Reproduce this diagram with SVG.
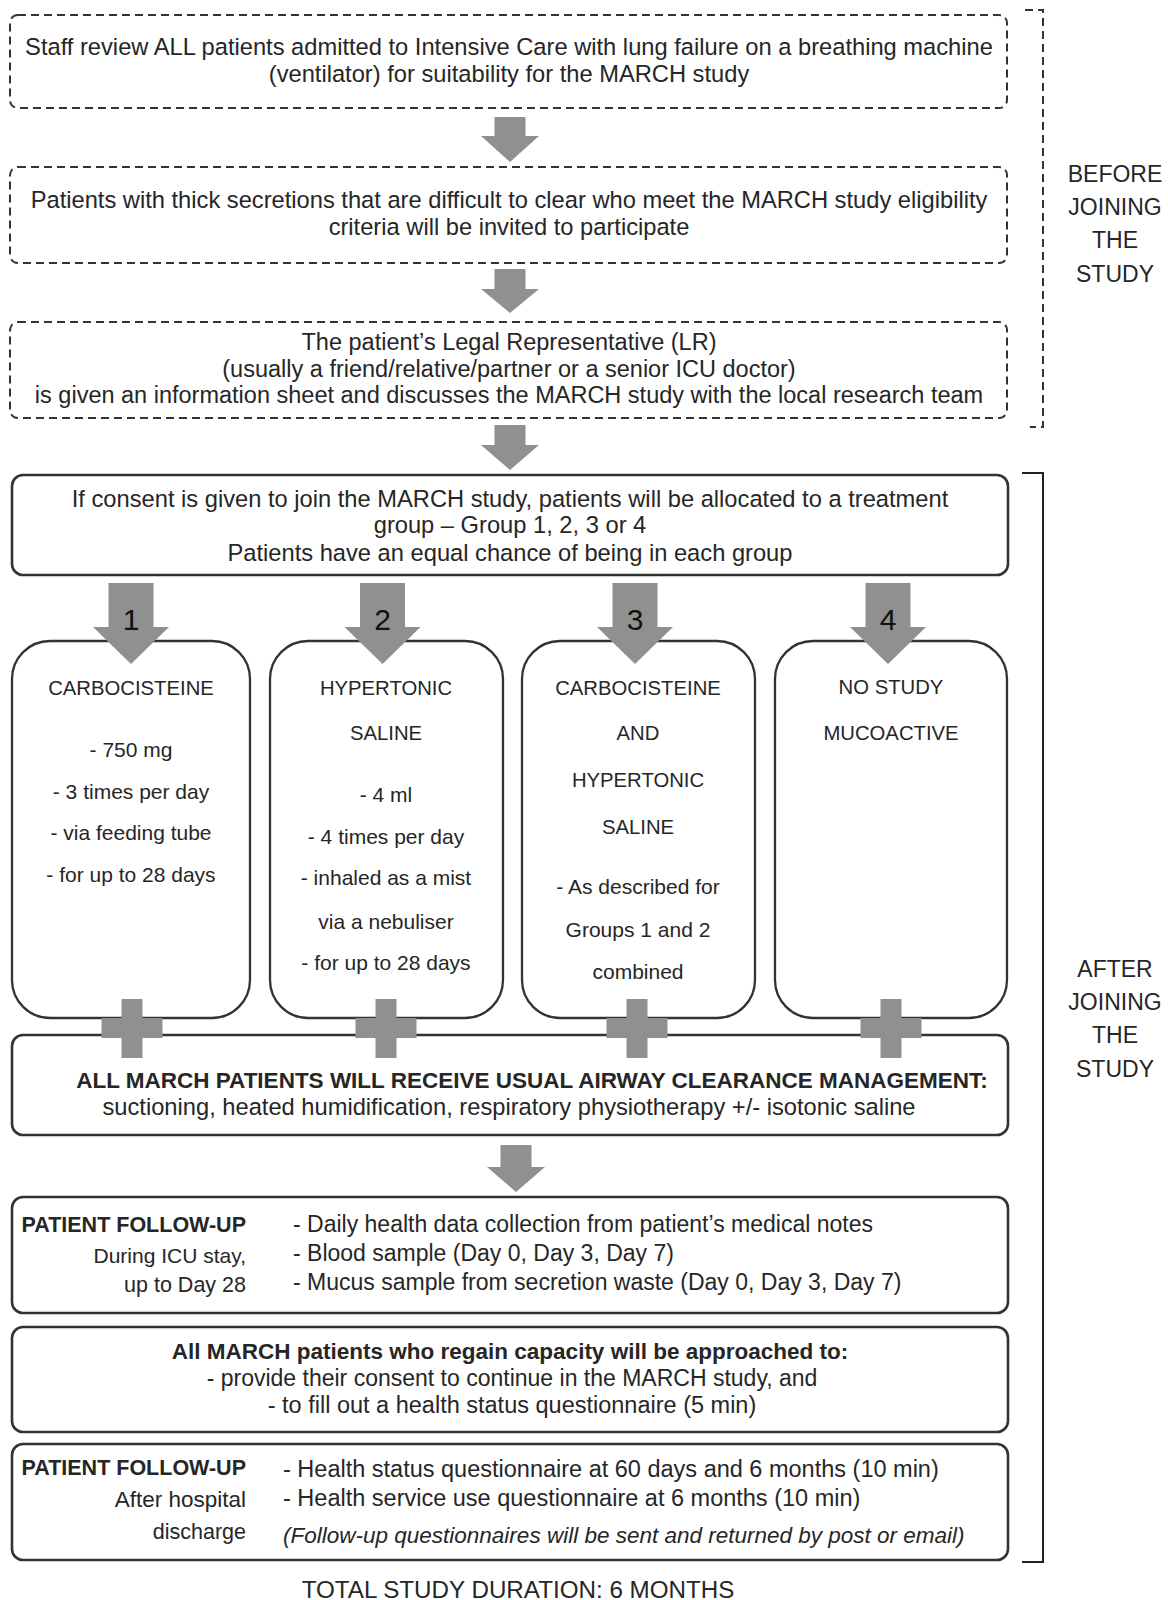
<svg xmlns="http://www.w3.org/2000/svg" width="1168" height="1600" viewBox="0 0 1168 1600">
<style>
text{font-family:"Liberation Sans",Arial,sans-serif;fill:#262626}
.c{text-anchor:middle}
.r{text-anchor:end}
.b{font-weight:bold}
.t24{font-size:23.7px}
.t23{font-size:23px}
.t235{font-size:23.5px}
.t22{font-size:22px}
.t225{font-size:22.5px}
.t21{font-size:21px}
.t215{font-size:21.5px}
.t20{font-size:20.3px}
.num{font-size:30px;fill:#111}
.dash{fill:#fff;stroke:#333;stroke-width:2;stroke-dasharray:8 5}
.box{fill:#fff;stroke:#333;stroke-width:2.6}
.grp{fill:#fff;stroke:#333;stroke-width:2.3}
.arr{fill:#909090}
.brd{fill:none;stroke:#333;stroke-width:2;stroke-dasharray:8 5}
.brs{fill:none;stroke:#222;stroke-width:2}
</style>
<rect width="1168" height="1600" fill="#fff"/>

<g id="bracket-before"><path class="brd" d="M1025,10 H1043 V427 H1030"/></g>
<g id="bracket-after"><path class="brs" d="M1022,473 H1043 V1562 H1022"/></g>
<g id="label-before">
<text class="c t23" x="1115" y="182">BEFORE</text>
<text class="c t23" x="1115" y="215">JOINING</text>
<text class="c t23" x="1115" y="248">THE</text>
<text class="c t23" x="1115" y="282">STUDY</text>
</g>
<g id="label-after">
<text class="c t23" x="1115" y="977">AFTER</text>
<text class="c t23" x="1115" y="1010">JOINING</text>
<text class="c t23" x="1115" y="1043">THE</text>
<text class="c t23" x="1115" y="1077">STUDY</text>
</g>

<g id="review">
<rect class="dash" x="10" y="15" width="997" height="93" rx="8"/>
<text class="c t24" x="509" y="55">Staff review ALL patients admitted to Intensive Care with lung failure on a breathing machine</text>
<text class="c t24" x="509" y="82">(ventilator) for suitability for the MARCH study</text>
</g>
<g id="invite">
<rect class="dash" x="10" y="167" width="997" height="96" rx="8"/>
<text class="c t24" x="509" y="208">Patients with thick secretions that are difficult to clear who meet the MARCH study eligibility</text>
<text class="c t24" x="509" y="235">criteria will be invited to participate</text>
</g>
<g id="lr">
<rect class="dash" x="10" y="322" width="997" height="96" rx="8"/>
<text class="c t235" x="509" y="350">The patient’s Legal Representative (LR)</text>
<text class="c t235" x="509" y="377">(usually a friend/relative/partner or a senior ICU doctor)</text>
<text class="c t235" x="509" y="403">is given an information sheet and discusses the MARCH study with the local research team</text>
</g>
<g id="consent">
<rect class="box" x="12" y="475" width="996" height="100" rx="11"/>
<text class="c t24" x="510" y="507">If consent is given to join the MARCH study, patients will be allocated to a treatment</text>
<text class="c t24" x="510" y="533">group – Group 1, 2, 3 or 4</text>
<text class="c t24" x="510" y="561">Patients have an equal chance of being in each group</text>
</g>

<g id="group1">
<rect class="grp" x="12" y="641" width="238" height="377" rx="38"/>
<text class="c t20" x="131" y="695">CARBOCISTEINE</text>
<text class="c t21" x="131" y="757">- 750 mg</text>
<text class="c t21" x="131" y="799">- 3 times per day</text>
<text class="c t21" x="131" y="840">- via feeding tube</text>
<text class="c t21" x="131" y="882">- for up to 28 days</text>
</g>
<g id="group2">
<rect class="grp" x="270" y="641" width="233" height="377" rx="38"/>
<text class="c t20" x="386" y="695">HYPERTONIC</text>
<text class="c t20" x="386" y="740">SALINE</text>
<text class="c t21" x="386" y="802">- 4 ml</text>
<text class="c t21" x="386" y="844">- 4 times per day</text>
<text class="c t21" x="386" y="885">- inhaled as a mist</text>
<text class="c t21" x="386" y="929">via a nebuliser</text>
<text class="c t21" x="386" y="970">- for up to 28 days</text>
</g>
<g id="group3">
<rect class="grp" x="522" y="641" width="233" height="377" rx="38"/>
<text class="c t20" x="638" y="695">CARBOCISTEINE</text>
<text class="c t20" x="638" y="740">AND</text>
<text class="c t20" x="638" y="787">HYPERTONIC</text>
<text class="c t20" x="638" y="834">SALINE</text>
<text class="c t21" x="638" y="894">- As described for</text>
<text class="c t21" x="638" y="937">Groups 1 and 2</text>
<text class="c t21" x="638" y="979">combined</text>
</g>
<g id="group4">
<rect class="grp" x="775" y="641" width="232" height="377" rx="38"/>
<text class="c t20" x="891" y="694">NO STUDY</text>
<text class="c t20" x="891" y="740">MUCOACTIVE</text>
</g>

<g id="airway">
<rect class="box" x="12" y="1035" width="996" height="100" rx="11"/>
<text class="c t225 b" x="532" y="1088">ALL MARCH PATIENTS WILL RECEIVE USUAL AIRWAY CLEARANCE MANAGEMENT:</text>
<text class="c t24" x="509" y="1115">suctioning, heated humidification, respiratory physiotherapy +/- isotonic saline</text>
</g>

<g id="followup-icu">
<rect class="box" x="12" y="1197" width="996" height="116" rx="11"/>
<text class="r t215 b" x="246" y="1232">PATIENT FOLLOW-UP</text>
<text class="r t21" x="246" y="1263">During ICU stay,</text>
<text class="r t215" x="246" y="1292">up to Day 28</text>
<text class="t23" x="293" y="1232">- Daily health data collection from patient’s medical notes</text>
<text class="t23" x="293" y="1261">- Blood sample (Day 0, Day 3, Day 7)</text>
<text class="t23" x="293" y="1290">- Mucus sample from secretion waste (Day 0, Day 3, Day 7)</text>
</g>
<g id="capacity">
<rect class="box" x="12" y="1327" width="996" height="105" rx="11"/>
<text class="c t225 b" x="510" y="1359">All MARCH patients who regain capacity will be approached to:</text>
<text class="c t23" x="512" y="1386">- provide their consent to continue in the MARCH study, and</text>
<text class="c t235" x="512" y="1413">- to fill out a health status questionnaire (5 min)</text>
</g>
<g id="followup-discharge">
<rect class="box" x="12" y="1444" width="996" height="116" rx="11"/>
<text class="r t215 b" x="246" y="1475">PATIENT FOLLOW-UP</text>
<text class="r t225" x="246" y="1507">After hospital</text>
<text class="r t215" x="246" y="1539">discharge</text>
<text class="t235" x="283" y="1477">- Health status questionnaire at 60 days and 6 months (10 min)</text>
<text class="t235" x="283" y="1506">- Health service use questionnaire at 6 months (10 min)</text>
<text class="t225" x="283" y="1543" font-style="italic">(Follow-up questionnaires will be sent and returned by post or email)</text>
</g>
<g id="duration">
<text class="c" x="518" y="1598" font-size="24.2px">TOTAL STUDY DURATION: 6 MONTHS</text>
</g>

<g id="connectors">
<path class="arr" d="M494.5,117 H525.5 V136 H539 L510,162 L481,136 H494.5 Z"/>
<path class="arr" d="M494.5,269 H525.5 V289 H539 L510,313 L481,289 H494.5 Z"/>
<path class="arr" d="M494.5,425 H525.5 V445 H539 L510,470 L481,445 H494.5 Z"/>
<path class="arr" d="M500.5,1145 H531.5 V1167 H545 L516,1192 L487,1167 H500.5 Z"/>
<path class="arr" d="M108.5,583 H153.5 V627 H169 L131,664 L93,627 H108.5 Z"/>
<path class="arr" d="M360,583 H405 V627 H420.5 L382.5,664 L344.5,627 H360 Z"/>
<path class="arr" d="M612.5,583 H657.5 V627 H673 L635,664 L597,627 H612.5 Z"/>
<path class="arr" d="M865.5,583 H910.5 V627 H926 L888,664 L850,627 H865.5 Z"/>
<text class="c num" x="131" y="630">1</text>
<text class="c num" x="382.5" y="630">2</text>
<text class="c num" x="635" y="630">3</text>
<text class="c num" x="888" y="630">4</text>
<path class="arr" d="M121.5,999 H142.5 V1018 H162.5 V1038 H142.5 V1058 H121.5 V1038 H101.5 V1018 H121.5 Z"/>
<path class="arr" d="M375.5,999 H396.5 V1018 H416.5 V1038 H396.5 V1058 H375.5 V1038 H355.5 V1018 H375.5 Z"/>
<path class="arr" d="M626.5,999 H647.5 V1018 H667.5 V1038 H647.5 V1058 H626.5 V1038 H606.5 V1018 H626.5 Z"/>
<path class="arr" d="M880.5,999 H901.5 V1018 H921.5 V1038 H901.5 V1058 H880.5 V1038 H860.5 V1018 H880.5 Z"/>
</g>
</svg>
